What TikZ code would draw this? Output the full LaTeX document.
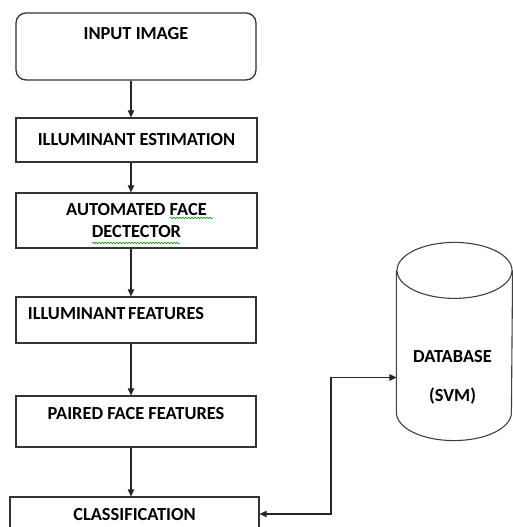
\documentclass[tikz,border=0pt]{standalone}
\usepackage{fontspec}
\setmainfont{Carlito}
\usepackage{tikz}
\usetikzlibrary{positioning,arrows.meta,decorations.pathmorphing}
\tikzstyle{stage} = [rectangle, draw=black!80, line width=1.3pt, inner sep=0pt]
\tikzstyle{txt} = [inner sep=0pt, font=\fontsize{18.4}{22}\selectfont\bfseries]
\tikzstyle{cyl} = [-, draw=black!75, line width=1.1pt]
\tikzstyle{wavy} = [-, draw=green!60!black, line width=0.6pt, decorate, decoration={snake, amplitude=0.8pt, segment length=3pt}]

\begin{document}
\begin{tikzpicture}[->,>={Triangle[length=7pt,width=6.5pt]},x=1pt,y=1pt,line width=1.2pt,draw=black!85]
  \useasboundingbox (0,0) rectangle (513,527);
  \clip (0,0) rectangle (513,527);

  \node[stage, rounded corners=10pt, minimum width=240pt, minimum height=67pt] (inp) at (136,480.5) {};
  \node[txt] (inp_t) [below=14pt of inp.north] {INPUT IMAGE};
  \node[stage, txt, minimum width=241pt, minimum height=44pt] (est) at (136.5,387) {ILLUMINANT ESTIMATION};
  \node[stage, txt, align=center, minimum width=241pt, minimum height=55pt] (auto) at (136.5,306.5) {AUTOMATED FACE\\[0pt]DECTECTOR};
  \node[stage, minimum width=240pt, minimum height=46pt] (feat) at (136,207) {};
  \node[txt] (feat_t) [below right=10pt and 12pt of feat.north west] {ILLUMINANT\hspace{-1.5pt} FEATURES};
  \node[stage, minimum width=240pt, minimum height=51pt] (pair) at (136,105.5) {};
  \node[txt] (pair_t) [below=11pt of pair.north] {PAIRED FACE FEATURES};
  \node[stage, minimum width=249pt, minimum height=34pt] (cls) at (134.5,13) {};
  \node[txt] (cls_t) [below=11pt of cls.north] {CLASSIFICATION};

  % spell-check marks
  \draw[wavy] ([shift={(33.5,2.5)}]auto.center) -- ++(43,0);
  \draw[wavy] ([shift={(-44.5,-22.5)}]auto.center) -- ++(88,0);

  % database
  \node[inner sep=0pt, minimum width=115pt, minimum height=197pt] (db) at (454.5,185.5) {};
  \draw[cyl] ([yshift=-28pt]db.north) ellipse [x radius=57.5pt, y radius=28pt];
  \draw[cyl] ([yshift=-28pt]db.north west) -- ([yshift=28pt]db.south west)
    arc [start angle=180, end angle=360, x radius=57.5pt, y radius=28pt] -- ([yshift=-28pt]db.north east);
  \node[txt, align=center] (db_t) at (452.5,149.5) {DATABASE\\[17pt](SVM)};

  \coordinate (ax) at (131,0);
  \coordinate (bend) at (331,0);

  \path (inp.south -| ax) edge (est.north -| ax);
  \path (est.south -| ax) edge (auto.north -| ax);
  \path (auto.south -| ax) edge (feat.north -| ax);
  \path (feat.south -| ax) edge (pair.north -| ax);
  \path (pair.south -| ax) edge (cls.north -| ax);
  \draw[<->] (cls.east) -| (bend |- db_t) -- (db.west |- db_t);
\end{tikzpicture}
\end{document}
